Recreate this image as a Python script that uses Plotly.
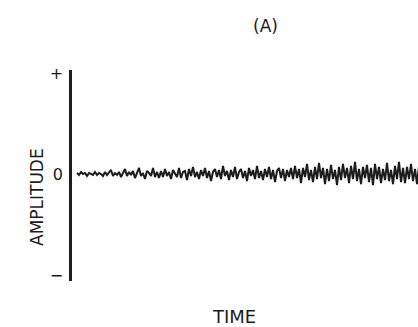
import plotly.graph_objects as go

# Tick labels on the amplitude axis
amp_tickvals = [1, 0, -1]
amp_ticktext = ["+", "0", "\u2212"]

# Amplitude samples (left to right)
amplitude = [
    0.01, -0.01, 0.02, 0.00, 0.01, -0.02, 0.01, 0.00, -0.01, 0.02,
    -0.01, 0.01, 0.00, -0.02, 0.02, -0.01, 0.01, 0.04, -0.02, 0.01,
    -0.01, 0.02, -0.03, 0.01, 0.05, -0.02, 0.02, -0.01, 0.03, -0.04,
    0.02, 0.06, -0.02, 0.01, -0.05, 0.03, 0.01, -0.02, 0.06, -0.03, 0.02, -0.04,
    0.03, -0.03, 0.05, -0.02, 0.02, -0.05, 0.04, 0.01, -0.03, 0.06,
    -0.04, 0.02, 0.03, -0.06, 0.05, -0.02, 0.07, -0.03, 0.02, -0.05,
    0.04, -0.02, 0.06, -0.04, 0.03, -0.07, 0.02, 0.05, -0.03, 0.04,
    -0.05, 0.08, -0.02, 0.03, -0.06, 0.04, -0.03, 0.07, -0.05, 0.02,
    0.05, -0.04, 0.03, -0.07, 0.06, -0.02, 0.04, -0.05, 0.08, -0.04,
    0.03, -0.06, 0.05, -0.03, 0.07, -0.05, 0.04, -0.08, 0.03, 0.06,
    -0.04, 0.05, -0.07, 0.04, -0.03,
    0.06, -0.05, 0.08, -0.04, 0.05, -0.09, 0.06, -0.03, 0.10, -0.06,
    0.04, -0.08, 0.07, -0.05, 0.11, -0.04, 0.06, -0.10, 0.05, -0.07,
    0.09, -0.05, 0.04, -0.11, 0.07, -0.06, 0.10, -0.04, 0.06, -0.09,
    0.08, -0.05, 0.12, -0.07, 0.05, -0.10, 0.07, -0.04, 0.09, -0.08,
    0.06, -0.11, 0.10, -0.05, 0.07, -0.09, 0.05, -0.06, 0.11, -0.07,
    0.04, -0.10, 0.08, -0.05, 0.12, -0.08, 0.06, -0.09, 0.07, -0.05,
    0.10, -0.07, 0.05, -0.10, 0.08,
]
time = list(range(len(amplitude)))

FONT = "DejaVu Sans"
INK = "#1c1c1c"
W, H = 418, 327
L, R, T, B = 72, 0, 70, 46
PW, PH = W - L - R, H - T - B


def px_to_paper(px, py):
    return (px - L) / PW, (H - B - py) / PH


fig = go.Figure()
fig.add_trace(go.Scatter(
    x=time, y=amplitude, mode="lines",
    line=dict(color=INK, width=2.0),
    hoverinfo="skip", showlegend=False,
))

labels = [
    ("(A)", 265, 26, 0, 17),
    ("AMPLITUDE", 37, 197, -90, 17),
    ("TIME", 234, 316, 0, 18),
]
annotations = []
for text, px, py, ang, size in labels:
    ax, ay = px_to_paper(px, py)
    annotations.append(dict(
        text=text, x=ax, y=ay, xref="paper", yref="paper",
        xanchor="center", yanchor="middle", textangle=ang,
        showarrow=False, font=dict(family=FONT, size=size, color=INK),
    ))

fig.update_layout(
    width=W, height=H,
    margin=dict(l=L, r=R, t=T, b=B),
    paper_bgcolor="white", plot_bgcolor="white",
    xaxis=dict(range=[-2.5, 170.5], visible=False),
    yaxis=dict(
        range=[-1.06, 1.03],
        showline=True, linecolor=INK, linewidth=2.5,
        showgrid=False, zeroline=False, ticks="",
        tickvals=amp_tickvals, ticktext=amp_ticktext,
        tickfont=dict(family=FONT, size=16, color=INK),
        ticklabelstandoff=3,
    ),
    annotations=annotations,
)

fig.write_html("out.html")
